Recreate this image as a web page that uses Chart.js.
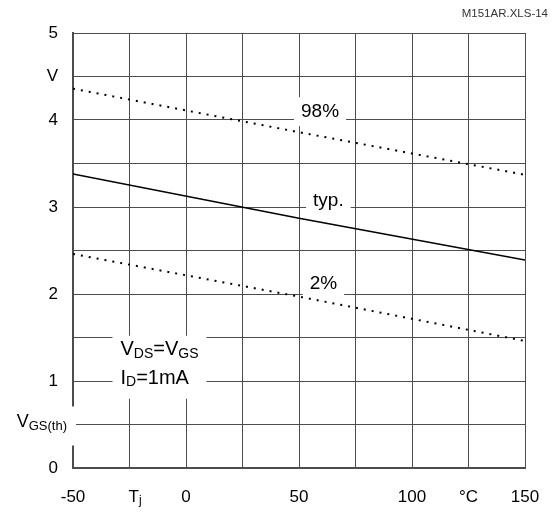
<!DOCTYPE html>
<html lang="en">
<head>
    <meta charset="UTF-8">
    <title>Gate threshold voltage vs junction temperature</title>
    <script src="https://cdn.jsdelivr.net/npm/chart.js"></script>
    <style>
        body { margin: 0; background: #fff; }
        #wrap { width: 556px; height: 512px; position: relative; }
    </style>
</head>
<body>
    <div id="wrap">
        <canvas id="vthChart" width="556" height="512"></canvas>
    </div>

    <script>
        // junction temperature (°C) where values were read
        const tempPoints = [-50, 50, 150];
        // VGS(th) curves (V)
        const vth98 = [4.36, 3.86, 3.37];
        const vthTyp = [3.38, 2.87, 2.39];
        const vth2 = [2.46, 1.97, 1.46];

        // axis labels
        const yTickLabels = { 5: '5', 4.5: 'V', 4: '4', 3: '3', 2: '2', 1: '1', 0: '0' };
        const xTickLabels = { '-50': '-50', 0: '0', 50: '50', 100: '100', 125: '°C', 150: '150' };

        const FONT = '"Liberation Sans", Arial, sans-serif';
        const GRID = '#4d4d4d';

        function toPoints(ys) {
            return tempPoints.map((t, i) => ({ x: t, y: ys[i] }));
        }

        // draw text with subscript parts: parts = [[text, isSub], ...]
        function richWidth(ctx, parts, size, subSize) {
            let w = 0;
            parts.forEach(p => {
                ctx.font = (p[1] ? subSize : size) + 'px ' + FONT;
                w += ctx.measureText(p[0]).width;
            });
            return w;
        }
        function drawRich(ctx, parts, x, y, size, subSize) {
            ctx.textBaseline = 'middle';
            ctx.textAlign = 'left';
            parts.forEach(p => {
                ctx.font = (p[1] ? subSize : size) + 'px ' + FONT;
                ctx.fillText(p[0], x, p[1] ? y + 4 : y);
                x += ctx.measureText(p[0]).width;
            });
        }

        const labelPlugin = {
            id: 'labels',
            beforeDatasetsDraw(chart) {
                const ctx = chart.ctx;
                const xs = chart.scales.x, ys = chart.scales.y;
                ctx.save();

                // curve labels in white boxes
                const curveLabels = [
                    { text: '98%', x: 59.3, y: 4.09 },
                    { text: 'typ.', x: 63, y: 3.07 },
                    { text: '2%', x: 60.8, y: 2.12 }
                ];
                ctx.font = '19px ' + FONT;
                curveLabels.forEach(l => {
                    const px = xs.getPixelForValue(l.x);
                    const py = ys.getPixelForValue(l.y);
                    const w = ctx.measureText(l.text).width;
                    ctx.fillStyle = '#fff';
                    ctx.fillRect(px - w / 2 - 7, py - 15, w + 14, 29);
                    ctx.fillStyle = '#000';
                    ctx.textAlign = 'center';
                    ctx.textBaseline = 'middle';
                    ctx.fillText(l.text, px, py);
                });

                // conditions box
                const cx = xs.getPixelForValue(-29);
                ctx.fillStyle = '#fff';
                ctx.fillRect(cx - 8, ys.getPixelForValue(1.52), 94, 63);
                ctx.fillStyle = '#000';
                drawRich(ctx, [['V', false], ['DS', true], ['=V', false], ['GS', true]],
                    cx, ys.getPixelForValue(1.36), 20, 14);
                drawRich(ctx, [['I', false], ['D', true], ['=1mA', false]],
                    cx, ys.getPixelForValue(1.03), 20, 14);

                // y axis title VGS(th)
                const vp = ys.getPixelForValue(0.5);
                ctx.fillStyle = '#fff';
                ctx.fillRect(10, vp - 18, xs.left - 7, 39);
                ctx.fillStyle = '#000';
                const vParts = [['V', false], ['GS(th)', true]];
                const vw = richWidth(ctx, vParts, 18, 13);
                drawRich(ctx, vParts, 67 - vw, vp - 2, 18, 13);

                // x axis title Tj
                const tp = xs.getPixelForValue(-25);
                drawRich(ctx, [['T', false], ['j', true]], tp - 1, ys.bottom + 29, 17, 12);

                // file reference
                ctx.font = '11.5px ' + FONT;
                ctx.textAlign = 'right';
                ctx.textBaseline = 'middle';
                ctx.fillStyle = '#333';
                ctx.fillText('M151AR.XLS-14', 548, 14);
                ctx.restore();
            }
        };

        const ctx = document.getElementById('vthChart').getContext('2d');
        window.vthChart = new Chart(ctx, {
            type: 'line',
            data: {
                datasets: [
                    {
                        label: '98%',
                        data: toPoints(vth98),
                        borderColor: '#000',
                        borderWidth: 2,
                        borderDash: [2, 6],
                        pointRadius: 0,
                        fill: false
                    },
                    {
                        label: 'typ.',
                        data: toPoints(vthTyp),
                        borderColor: '#000',
                        borderWidth: 1.5,
                        pointRadius: 0,
                        fill: false
                    },
                    {
                        label: '2%',
                        data: toPoints(vth2),
                        borderColor: '#000',
                        borderWidth: 2,
                        borderDash: [2, 6],
                        pointRadius: 0,
                        fill: false
                    }
                ]
            },
            options: {
                responsive: false,
                animation: false,
                layout: { padding: { top: 33, right: 31, left: 0, bottom: 0 } },
                scales: {
                    x: {
                        type: 'linear',
                        min: -50,
                        max: 150,
                        afterFit: s => {
                            s.height = 44;
                            s.paddingLeft = 0;
                            s.paddingRight = 0;
                        },
                        grid: { color: GRID, lineWidth: 1, drawTicks: false },
                        border: { color: GRID, width: 2 },
                        ticks: {
                            stepSize: 25,
                            autoSkip: false,
                            maxRotation: 0,
                            padding: 19,
                            color: '#000',
                            font: { size: 17, family: FONT },
                            callback: v => xTickLabels[v] || ''
                        }
                    },
                    y: {
                        min: 0,
                        max: 5,
                        afterFit: s => { s.width = 73; },
                        grid: { color: GRID, lineWidth: 1, drawTicks: false },
                        border: { color: GRID, width: 2 },
                        ticks: {
                            stepSize: 0.5,
                            autoSkip: false,
                            padding: 15,
                            color: '#000',
                            font: { size: 17, family: FONT },
                            callback: v => yTickLabels[v] || ''
                        }
                    }
                },
                plugins: {
                    legend: { display: false },
                    tooltip: { enabled: false }
                }
            },
            plugins: [labelPlugin]
        });
    </script>
</body>
</html>
